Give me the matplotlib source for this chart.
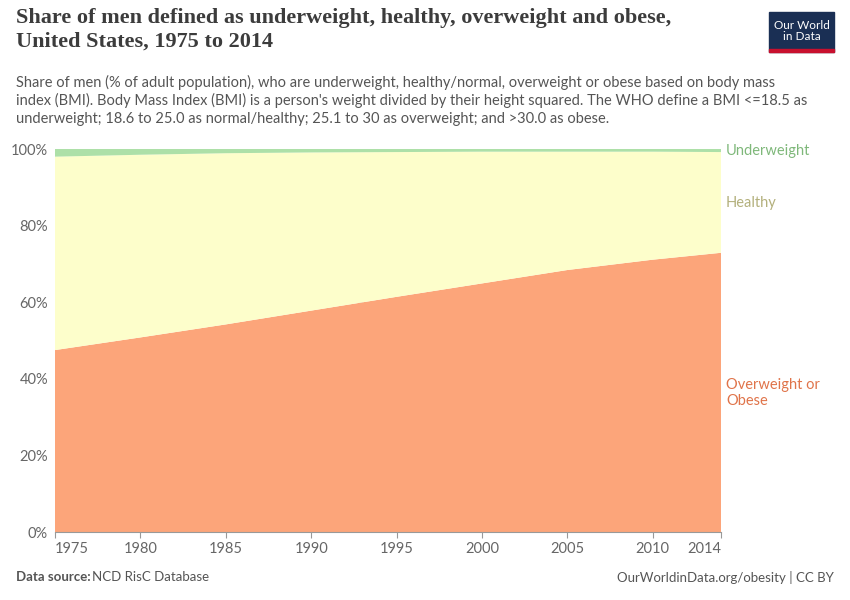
import matplotlib
matplotlib.use("Agg")
import matplotlib.pyplot as plt
import numpy as np

years = [1975, 1980, 1985, 1990, 1995, 2000, 2005, 2010, 2014]
overweight = [47.5, 50.8, 54.2, 57.8, 61.4, 64.9, 68.4, 71.1, 72.9]
underweight = [2.0, 1.5, 1.1, 0.9, 0.8, 0.7, 0.7, 0.7, 0.8]
healthy = [100 - o - u for o, u in zip(overweight, underweight)]
xticks = [1975, 1980, 1985, 1990, 1995, 2000, 2005, 2010, 2014]

plt.rcParams['font.family'] = ['Lato', 'DejaVu Sans']
fig = plt.figure(figsize=(8.5, 6), dpi=100)
ax = fig.add_axes([55/850, 68/600, 666/850, 383/600])
ax.stackplot(years, overweight, healthy, underweight,
             colors=['#fca57a', '#fdfecb', '#ade0a8'], linewidth=0)
ax.set_xlim(1975, 2014)
ax.set_ylim(0, 100)
ax.set_yticks(range(0, 101, 20))
ax.set_yticklabels([f"{v}%" for v in range(0, 101, 20)], color='#666666', fontsize=10.5)
ax.set_xticks(xticks)
labs = ax.set_xticklabels([str(x) for x in xticks], color='#666666', fontsize=10.5)
labs[0].set_ha('left'); labs[-1].set_ha('right')
for v in range(20, 101, 20):
    ax.axhline(v, color='#dddddd', lw=0.8, ls=(0, (4, 3)), zorder=0)
for s in ['top', 'right', 'left']:
    ax.spines[s].set_visible(False)
ax.spines['bottom'].set_color('#999999')
ax.tick_params(axis='y', length=0, pad=5)
ax.tick_params(axis='x', length=4, color='#999999')

fig.text(726/850, 1-151/600, "Underweight", color='#7fb87a', fontsize=10.5, va='center')
fig.text(726/850, 1-203/600, "Healthy", color='#b3b07c', fontsize=10.5, va='center')
fig.text(726/850, 1-393/600, "Overweight or\nObese", color='#e0744a', fontsize=10.5, va='center', linespacing=1.1)

fig.text(16/850, 1-30/600, "Share of men defined as underweight, healthy, overweight and obese,\nUnited States, 1975 to 2014",
         fontsize=16, family=['Liberation Serif'], weight='bold', color='#3c3c3c', va='center', linespacing=1.2)
fig.text(16/850, 1-100/600, "Share of men (% of adult population), who are underweight, healthy/normal, overweight or obese based on body mass\nindex (BMI). Body Mass Index (BMI) is a person's weight divided by their height squared. The WHO define a BMI <=18.5 as\nunderweight; 18.6 to 25.0 as normal/healthy; 25.1 to 30 as overweight; and >30.0 as obese.",
         fontsize=10.5, color='#555555', va='center', linespacing=1.3)
t = fig.text(16/850, 1-577/600, "Data source:", fontsize=9.5, color='#555555', va='center', weight='bold')
fig.text(92/850, 1-577/600, "NCD RisC Database", fontsize=9.5, color='#555555', va='center')
fig.text(834/850, 1-577/600, "OurWorldinData.org/obesity | CC BY", fontsize=9.5, color='#555555', va='center', ha='right')

lx0, ly0, lw, lh = 769/850, 1-52/600, 65/850, 40/600
fig.patches.append(matplotlib.patches.Rectangle((lx0, ly0), lw, lh, transform=fig.transFigure, color='#1a2f54'))
fig.patches.append(matplotlib.patches.Rectangle((lx0, ly0), lw, 3/600, transform=fig.transFigure, color='#c8102e'))
fig.text(lx0+lw/2, ly0+lh/2+1/600, "Our World\nin Data", color='white', fontsize=8.5, ha='center', va='center', linespacing=1.1)

fig.savefig("out.png", dpi=100)
